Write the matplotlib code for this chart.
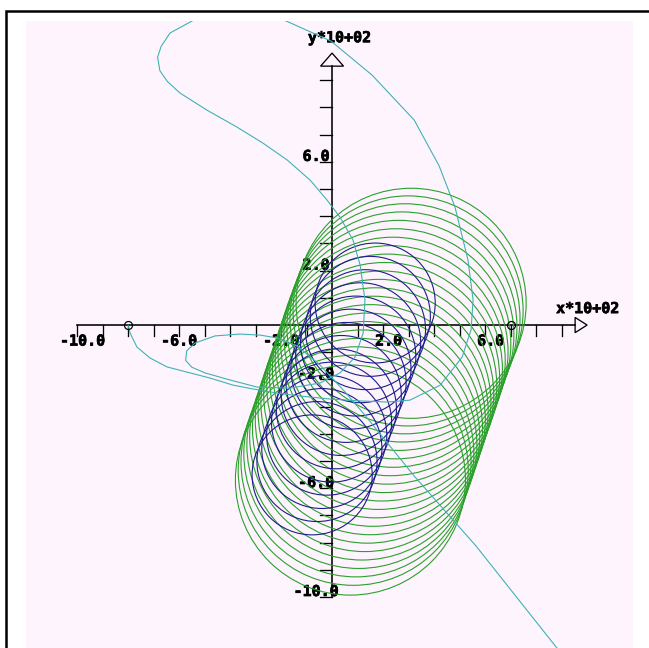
import numpy as np
import matplotlib
matplotlib.use('Agg')
import matplotlib.pyplot as plt
import matplotlib.patheffects as pe
from matplotlib.patches import Ellipse, Polygon, Rectangle

# all values in units of 10^2 (as the axis titles say)
# cyan trajectory
cyan_x = [-8.00, -7.92, -7.65, -7.14, -6.47, -5.69, -4.78, -3.88, -3.10, -2.16,
          -1.25, -0.08, 1.10, 2.16, 3.06, 4.24, 5.10, 5.45, 5.53, 5.33,
          4.82, 4.20, 3.22, 1.57, -0.04, -1.80, -3.22, -4.78, -5.49, -6.35,
          -6.70, -6.84, -6.75, -6.45, -5.96, -4.90, -3.73, -2.71, -1.76, -0.86, -0.20, 0.31,
          0.82, 1.10, 1.29, 1.22, 0.90, 0.31, -0.47, -1.65, -2.94, -4.00,
          -4.98, -5.50, -5.74, -5.70, -5.37, -4.59, -3.61, -2.82, -2.12, -1.37, -0.47,
          0.51, 1.25, 3.22, 5.65, 8.94]
cyan_y = [0.00, -0.29, -0.81, -1.21, -1.54, -1.73, -1.95, -2.21, -2.35, -2.50,
          -2.61, -2.72, -2.79, -2.83, -2.76, -2.21, -1.18, -0.18, 0.92, 2.39,
          4.34, 5.85, 7.54, 9.19, 10.44, 11.18, 11.65, 11.58, 11.18, 10.74,
          10.25, 9.85, 9.35, 8.95, 8.53, 7.90, 7.28, 6.69, 6.07, 5.33, 4.60, 3.97,
          3.13, 2.21, 0.92, -0.29, -1.18, -1.76, -2.13, -2.32, -2.28, -2.02,
          -1.76, -1.55, -1.30, -0.95, -0.66, -0.40, -0.33, -0.37, -0.48, -0.77, -1.47,
          -2.46, -3.27, -5.55, -8.13, -12.02]

# green helix: centres of the successive loops
green_cx = [3.10, 2.98, 2.86, 2.74, 2.62, 2.50, 2.39, 2.28, 2.17, 2.06, 1.95,
            1.83, 1.72, 1.61, 1.50, 1.39, 1.28, 1.17, 1.05, 0.94, 0.83, 0.72]
green_cy = [0.80, 0.52, 0.23, -0.07, -0.38, -0.69, -1.00, -1.31, -1.62, -1.93, -2.24,
            -2.55, -2.86, -3.17, -3.48, -3.79, -4.10, -4.41, -4.72, -5.03, -5.34, -5.70]
green_w, green_h = 9.02, 8.46

# blue helix: centres of the successive loops
blue_cx = [1.69, 1.50, 1.31, 1.12, 0.93, 0.74, 0.55, 0.36, 0.17, -0.02, -0.21, -0.40, -0.59, -0.78]
blue_cy = [0.81, 0.32, -0.17, -0.65, -1.14, -1.62, -2.11, -2.59, -3.08, -3.57, -4.05, -4.54, -5.02, -5.51]
blue_w, blue_h = 4.71, 4.41

# start points
start_x = [-8.0, 7.0]
start_y = [0.0, 0.0]

tick_pos = [t for t in range(-10, 10) if t != 0]
label_pos = [-10, -6, -2, 2, 6]
label_txt = ['-10.0', '-6.0', '-2.0', '2.0', '6.0']

green = '#2aa02a'
blue = '#1c1c8a'
cyan = '#3fb2b2'
font = dict(family='DejaVu Sans Mono', weight='bold', fontsize=15, color='black', zorder=1.5,
            path_effects=[pe.withStroke(linewidth=0.7, foreground='black')])

fig = plt.figure(figsize=(649/72, 648/72), dpi=72)
ax = fig.add_axes([26/649, 0, 607/649, 627/648])
ax.set_facecolor('#fdf4fd')
ax.set_xlim(-12.0, 11.8)
ax.set_ylim(-11.875, 11.18)
ax.set_xticks([])
ax.set_yticks([])
for s in ax.spines.values():
    s.set_visible(False)

# axes with arrows
ax.plot([-10, 9.53], [0, 0], color='k', lw=1.6, zorder=1.6)
ax.plot([0, 0], [-10, 9.52], color='k', lw=1.6, zorder=1.6)
ax.add_patch(Polygon([[9.53, 0.28], [10.0, 0], [9.53, -0.28]], closed=True, fill=False, ec='k', lw=1.3))
ax.add_patch(Polygon([[-0.45, 9.52], [0, 10.0], [0.45, 9.52]], closed=True, fill=False, ec='k', lw=1.3))
for t in tick_pos:
    ax.plot([t, t], [0, -0.40], color='k', lw=1.3, zorder=1.6)
    ax.plot([0, -0.47], [t, t], color='k', lw=1.3, zorder=1.6)

for p, s in zip(label_pos, label_txt):
    neg = 1 if s.startswith('-') else 0
    dx = -11*(1 + neg) + 5.5*len(s)
    ax.annotate(s, xy=(p, 0), xytext=(dx, -16), textcoords='offset points',
                ha='center', va='center', **font)
    ax.annotate(s, xy=(0, p), xytext=(-16, 1), textcoords='offset points',
                ha='center', va='baseline', **font)
ax.text(10.02, 0.44, 'x*10+02', ha='center', va='baseline', **font)
ax.text(0.29, 10.4, 'y*10+02', ha='center', va='baseline', **font)

# curves
for cx, cy in zip(green_cx, green_cy):
    ax.add_patch(Ellipse((cx, cy), green_w, green_h, fill=False, ec=green, lw=1.1, zorder=2))
for cx, cy in zip(blue_cx, blue_cy):
    ax.add_patch(Ellipse((cx, cy), blue_w, blue_h, fill=False, ec=blue, lw=1.1, zorder=2.1))
ax.plot(cyan_x, cyan_y, color=cyan, lw=1.1, zorder=2.2)
ax.plot(start_x, start_y, 'o', mfc='none', mec='k', ms=8, mew=1.2, zorder=2.3)

# frame of the window (only top and left are inside the picture)
fig.add_artist(Rectangle((6/649, -0.5), 2, 0.5 + 1 - 11/648, transform=fig.transFigure,
                         fill=False, ec='k', lw=2.5))

fig.savefig('out.png', dpi=72)
